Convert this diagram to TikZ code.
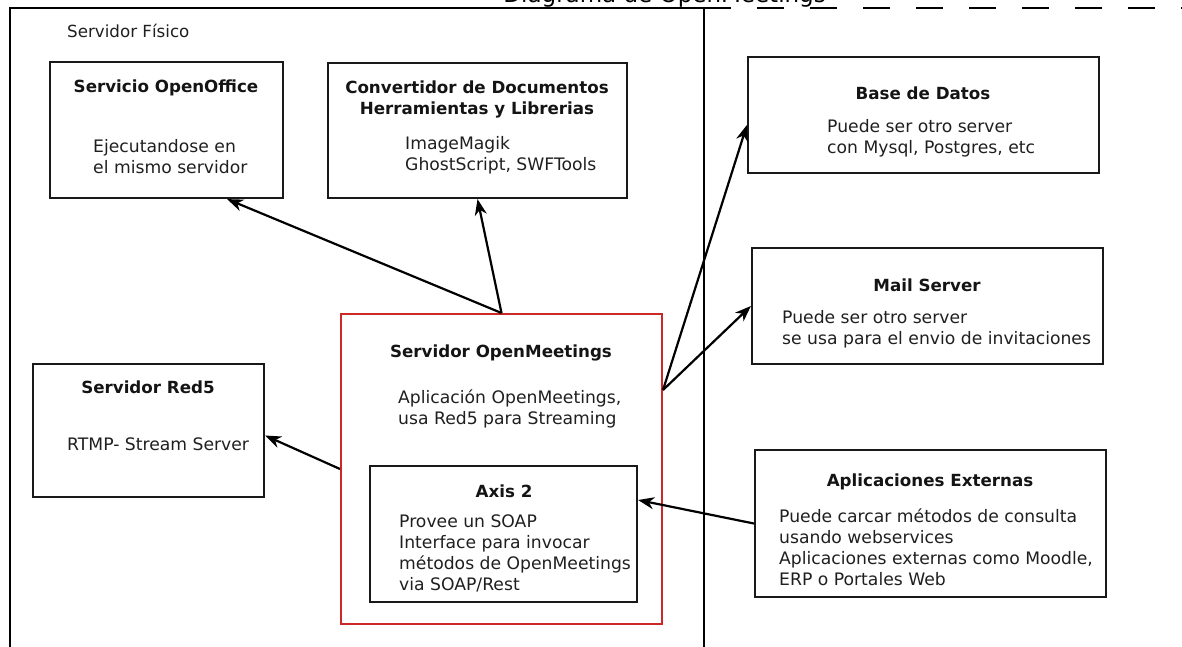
\documentclass[tikz,border=0pt]{standalone}
\usepackage{fontspec}
\setmainfont{DejaVu Sans}
\usetikzlibrary{arrows.meta,calc}
\newcommand{\mylines}[1]{\begin{tabular}[t]{@{}l@{}}#1\end{tabular}}
\newcommand{\mycentered}[1]{\begin{tabular}[t]{@{}c@{}}#1\end{tabular}}
\begin{document}
\begin{tikzpicture}[x=1pt,y=-1pt,
  box/.style={draw=black!90, line width=2.2pt, inner sep=0pt},
  redbox/.style={draw={rgb,255:red,204;green,40;blue,40}, line width=2pt, inner sep=0pt},
  txt/.style={font=\fontsize{17.2}{21}\selectfont, text=black!88, inner sep=0pt, anchor=base west},
  ttl/.style={font=\fontsize{16.7}{21}\selectfont\bfseries, text=black!92, inner sep=0pt, anchor=base},
  arr/.style={line width=2.2pt, -{Stealth[length=16pt,width=12pt,inset=5pt]}},
  frame/.style={line width=2.2pt, draw=black}
]
\useasboundingbox (0,0) rectangle (1182,646);
\clip (0,0) rectangle (1182,646);

% title (cut off at the top)
\node[font=\fontsize{23}{26}\selectfont, anchor=base east, inner sep=0pt] (title) at (826,2) {Diagrama de OpenMeetings};

% physical server frame
\draw[frame] (10,660) -- (10,8) -- (704,8) -- (704,660);
\draw[line width=2.5pt, dash pattern=on 27pt off 26pt] (704,8) -- (1182,8);
\node[txt, font=\fontsize{16.7}{21}\selectfont] (fis) at (67,37) {Servidor Físico};

% boxes
\node[box, minimum width=233pt, minimum height=136pt] (oo) at (166.5,130) {};
\node[box, minimum width=299pt, minimum height=135pt] (conv) at (477.5,130.5) {};
\node[box, minimum width=351pt, minimum height=116pt] (bd) at (923.5,115) {};
\node[box, minimum width=351pt, minimum height=116pt] (mail) at (927.5,306) {};
\node[box, minimum width=351pt, minimum height=147pt] (apps) at (930.5,523.5) {};
\node[box, minimum width=231pt, minimum height=133pt] (red5) at (148.5,430.5) {};
\node[redbox, minimum width=321pt, minimum height=310pt] (om) at (501.5,469) {};
\node[box, minimum width=267pt, minimum height=136pt] (axis) at (503.5,534) {};

% texts
\node[ttl] (ootl) at (166,92) {Servicio OpenOffice};
\node[txt] (ootx) at (93,152) {\mylines{Ejecutandose en\\el mismo servidor}};

\node[ttl] (convtl) at (477,93) {\mycentered{Convertidor de Documentos\\Herramientas y Librerias}};
\node[txt] (convtx) at (405,149) {\mylines{ImageMagik\\GhostScript, SWFTools}};

\node[ttl] (bdtl) at (923,99) {Base de Datos};
\node[txt] (bdtx) at (827,132) {\mylines{Puede ser otro server\\con Mysql, Postgres, etc}};

\node[ttl] (mailtl) at (927,291) {Mail Server};
\node[txt] (mailtx) at (782,323) {\mylines{Puede ser otro server\\se usa para el envio de invitaciones}};

\node[ttl] (appstl) at (930,486) {Aplicaciones Externas};
\node[txt] (appstx) at (779,522) {\mylines{Puede carcar métodos de consulta\\usando webservices\\Aplicaciones externas como Moodle,\\ERP o Portales Web}};

\node[ttl] (red5tl) at (148,393) {Servidor Red5};
\node[txt] (red5tx) at (67,450) {RTMP- Stream Server};

\node[ttl] (omtl) at (501,357) {Servidor OpenMeetings};
\node[txt] (omtx) at (398,403) {\mylines{Aplicación OpenMeetings,\\usa Red5 para Streaming}};

\node[ttl] (axistl) at (504,497) {Axis 2};
\node[txt] (axistx) at (399,527) {\mylines{Provee un SOAP\\Interface para invocar\\métodos de OpenMeetings\\via SOAP/Rest}};

% connectors
\coordinate (omout) at ([yshift=79pt]om.east);
\draw[arr] (om.north) -- ([xshift=-57pt]oo.south east);
\draw[arr] (om.north) -- (conv.south);
\draw[arr] (om.west) -- ([yshift=-5pt]red5.east);
\draw[arr] (omout) -- ([yshift=-10pt]bd.west);
\draw[arr] (omout) -- (mail.west);
\draw[arr] (apps.west) -- ([yshift=34pt]axis.east);
\end{tikzpicture}
\end{document}
